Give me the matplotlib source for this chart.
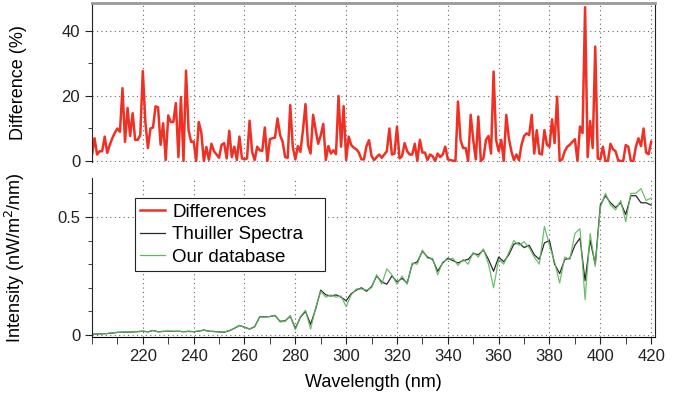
import numpy as np
import matplotlib.pyplot as plt
from matplotlib.ticker import MultipleLocator
from matplotlib.lines import Line2D

plt.rcParams['font.family'] = ['Liberation Sans', 'DejaVu Sans']

# Differenz in Prozent, 1-nm-Raster ab 200 nm
diff_wl = np.arange(200, 421)
diff_werte = [
    1.8, 7, 2, 3, 3, 7.5, 2.5, 5, 7, 8.7, 10, 9, 22.4, 5.9, 16.3, 7.7, 14.7, 6.5, 6.5, 8,
    27.7, 12, 4, 10, 10.3, 16.8, 16.5, 5, 11.6, 0.3, 14, 12, 12, 17.8, 1.2, 19.7, 0, 27.8, 9.5, 5.9,
    6, 0, 12, 8.8, 0, 4.3, 0.4, 5.3, 3, 2, 1, 5, 5.5, 0.8, 9.3, 1.2, 4.4, 0.3, 7.5, 0.8,
    0.5, 0.8, 12.4, 2.8, 0.3, 4.4, 3.3, 3.1, 10.3, 0, 6.7, 7, 7.2, 13.1, 8, 5.9, 1.2, 1, 17.2, 4.4,
    0.5, 4.6, 2.8, 9.5, 17.5, 4.9, 2.3, 14.2, 9.5, 5.3, 7.9, 11.4, 0.3, 4.6, 2.3, 3.3, 2.1, 20, 4.4, 16.9,
    0.3, 7.5, 4.9, 4.1, 3.6, 2.6, 0.5, 0.5, 4.6, 6.4, 1.5, 0.3, 1.2, 2, 1, 2, 3, 10, 2, 2.3,
    10.6, 0.8, 1.5, 5.5, 3, 2, 2, 5.3, 0, 6.5, 2.6, 2.6, 0.3, 2, 1.5, 0, 2.3, 1.2, 2, 4.4,
    0.5, 0.3, 0.1, 0, 18.3, 6.5, 4, 4, 0, 14.2, 6.5, 0.5, 13.7, 0, 0.8, 6.5, 7.7, 2.3, 27.5, 6.5,
    3, 6.5, 0, 14.2, 7, 3, 0.3, 2, 0.2, 5, 7.7, 8.5, 8, 14.2, 2.3, 9.5, 2.3, 2, 9.5, 5,
    4.4, 12.8, 5.5, 19.8, 0, 0.5, 3, 4.4, 5, 5.9, 6.7, 0, 10.6, 8.6, 47.3, 1.2, 12.3, 4, 35.2, 0.8,
    0.5, 4.4, 0, 0, 5.3, 3.6, 3, 0.3, 0, 0, 4.9, 4.4, 0, 0, 4.4, 7, 4.6, 10, 2.6, 2.1,
    5.9,
]

# Intensitaet, 2-nm-Raster
int_wl = np.arange(200, 421, 2)
thuiller = [
    0.003, 0.004, 0.005, 0.006, 0.008, 0.011, 0.012, 0.012, 0.013, 0.014,
    0.016, 0.013, 0.019, 0.014, 0.015, 0.016, 0.015, 0.016, 0.014, 0.015,
    0.014, 0.016, 0.021, 0.016, 0.015, 0.013, 0.012, 0.018, 0.028, 0.040,
    0.033, 0.025, 0.035, 0.077, 0.077, 0.078, 0.082, 0.058, 0.060, 0.080,
    0.028, 0.075, 0.100, 0.045, 0.110, 0.190, 0.170, 0.165, 0.170, 0.160,
    0.145, 0.175, 0.190, 0.200, 0.185, 0.205, 0.250, 0.225, 0.215, 0.250,
    0.225, 0.240, 0.220, 0.300, 0.310, 0.355, 0.330, 0.320, 0.270, 0.305,
    0.325, 0.315, 0.305, 0.315, 0.320, 0.345, 0.340, 0.360, 0.320, 0.270,
    0.330, 0.310, 0.340, 0.385, 0.390, 0.370, 0.380, 0.340, 0.320, 0.390,
    0.400, 0.300, 0.260, 0.320, 0.325, 0.380, 0.410, 0.230, 0.400, 0.300,
    0.550, 0.590, 0.560, 0.540, 0.560, 0.510, 0.590, 0.590, 0.560, 0.560,
    0.550,
]
datenbank = [
    0.003, 0.004, 0.005, 0.006, 0.009, 0.011, 0.012, 0.013, 0.013, 0.015,
    0.016, 0.014, 0.019, 0.013, 0.015, 0.016, 0.016, 0.015, 0.014, 0.016,
    0.014, 0.017, 0.020, 0.016, 0.014, 0.013, 0.013, 0.018, 0.029, 0.041,
    0.032, 0.026, 0.034, 0.076, 0.076, 0.078, 0.084, 0.055, 0.058, 0.082,
    0.022, 0.078, 0.105, 0.025, 0.115, 0.185, 0.160, 0.170, 0.160, 0.165,
    0.120, 0.170, 0.195, 0.195, 0.190, 0.200, 0.255, 0.215, 0.280, 0.255,
    0.215, 0.250, 0.215, 0.305, 0.300, 0.360, 0.325, 0.325, 0.255, 0.310,
    0.320, 0.325, 0.295, 0.320, 0.300, 0.350, 0.330, 0.365, 0.300, 0.200,
    0.320, 0.300, 0.350, 0.400, 0.380, 0.395, 0.370, 0.330, 0.300, 0.460,
    0.380, 0.310, 0.220, 0.330, 0.320, 0.430, 0.450, 0.150, 0.430, 0.290,
    0.540, 0.600, 0.550, 0.530, 0.570, 0.480, 0.600, 0.600, 0.620, 0.570,
    0.580,
]

rot = "#ee3124"
schwarz = "#2a2a2a"
gruen = "#5cb85c"

fig = plt.figure(figsize=(6.88, 3.98), dpi=100)
ax1 = fig.add_axes([0.1337, 0.593, 0.8183, 0.3995])
ax2 = fig.add_axes([0.1337, 0.1533, 0.8183, 0.3995])

ax1.plot(diff_wl, diff_werte, color=rot, linewidth=1.8)
ax2.plot(int_wl, thuiller, color=schwarz, linewidth=0.9)
ax2.plot(int_wl, datenbank, color=gruen, linewidth=0.9, alpha=0.9)

for ax in (ax1, ax2):
    ax.set_xlim(200, 421.5)
    ax.xaxis.set_major_locator(MultipleLocator(20))
    ax.xaxis.set_minor_locator(MultipleLocator(10))
    ax.grid(True, which="major", linestyle=(0, (1, 3)), color="#666666", linewidth=0.8)
    ax.tick_params(axis="both", which="both", direction="out", labelsize=12, colors="#222222")
    ax.tick_params(axis="both", which="major", length=5)
    ax.tick_params(axis="both", which="minor", length=3)
    ax.tick_params(axis="x", which="minor", length=5)
    ax.spines["right"].set_color("#222222")
    ax.spines["left"].set_color("#222222")

ax1.set_ylim(-0.3, 48.6)
ax1.yaxis.set_major_locator(MultipleLocator(20))
ax1.yaxis.set_minor_locator(MultipleLocator(10))
ax1.tick_params(axis="x", which="both", bottom=False, labelbottom=False)
ax1.spines["bottom"].set_visible(False)
ax1.spines["top"].set_color("#999999")
ax1.spines["top"].set_linewidth(2)
ax1.set_ylabel("Difference (%)", fontsize=13)

ax2.set_ylim(-0.0085, 0.665)
ax2.set_yticks([0, 0.5])
ax2.set_yticklabels(["0", "0.5"])
ax2.yaxis.set_minor_locator(MultipleLocator(0.1))
ax2.spines["top"].set_visible(False)
ax2.set_xticks(np.arange(220, 421, 20))
ax2.set_xlabel("Wavelength (nm)", fontsize=13, labelpad=7)
ax2.set_ylabel("Intensity (nW/m$^2$/nm)", fontsize=13)

ax1.yaxis.set_label_coords(-0.115, 0.5)
ax2.yaxis.set_label_coords(-0.115, 0.5)

# rechte Achsenlinie durchgehend
fig.add_artist(Line2D([0.952, 0.952], [0.5528, 0.593], transform=fig.transFigure,
                      color="#222222", linewidth=0.8))

griffe = [
    Line2D([], [], color=rot, linewidth=1.8),
    Line2D([], [], color=schwarz, linewidth=0.9),
    Line2D([], [], color=gruen, linewidth=0.9),
]
leg = ax2.legend(griffe, ["Differences", "Thuiller Spectra", "Our database"],
                 loc="upper left", bbox_to_anchor=(0.076, 0.3, 0.3375, 0.574), mode="expand",
                 borderaxespad=0, fontsize=13.5, handlelength=1.3, handletextpad=0.4,
                 labelspacing=0.28, fancybox=False, framealpha=1, edgecolor="#222222",
                 borderpad=0.3)
leg.get_frame().set_linewidth(0.8)

fig.savefig("out.png", dpi=100)
